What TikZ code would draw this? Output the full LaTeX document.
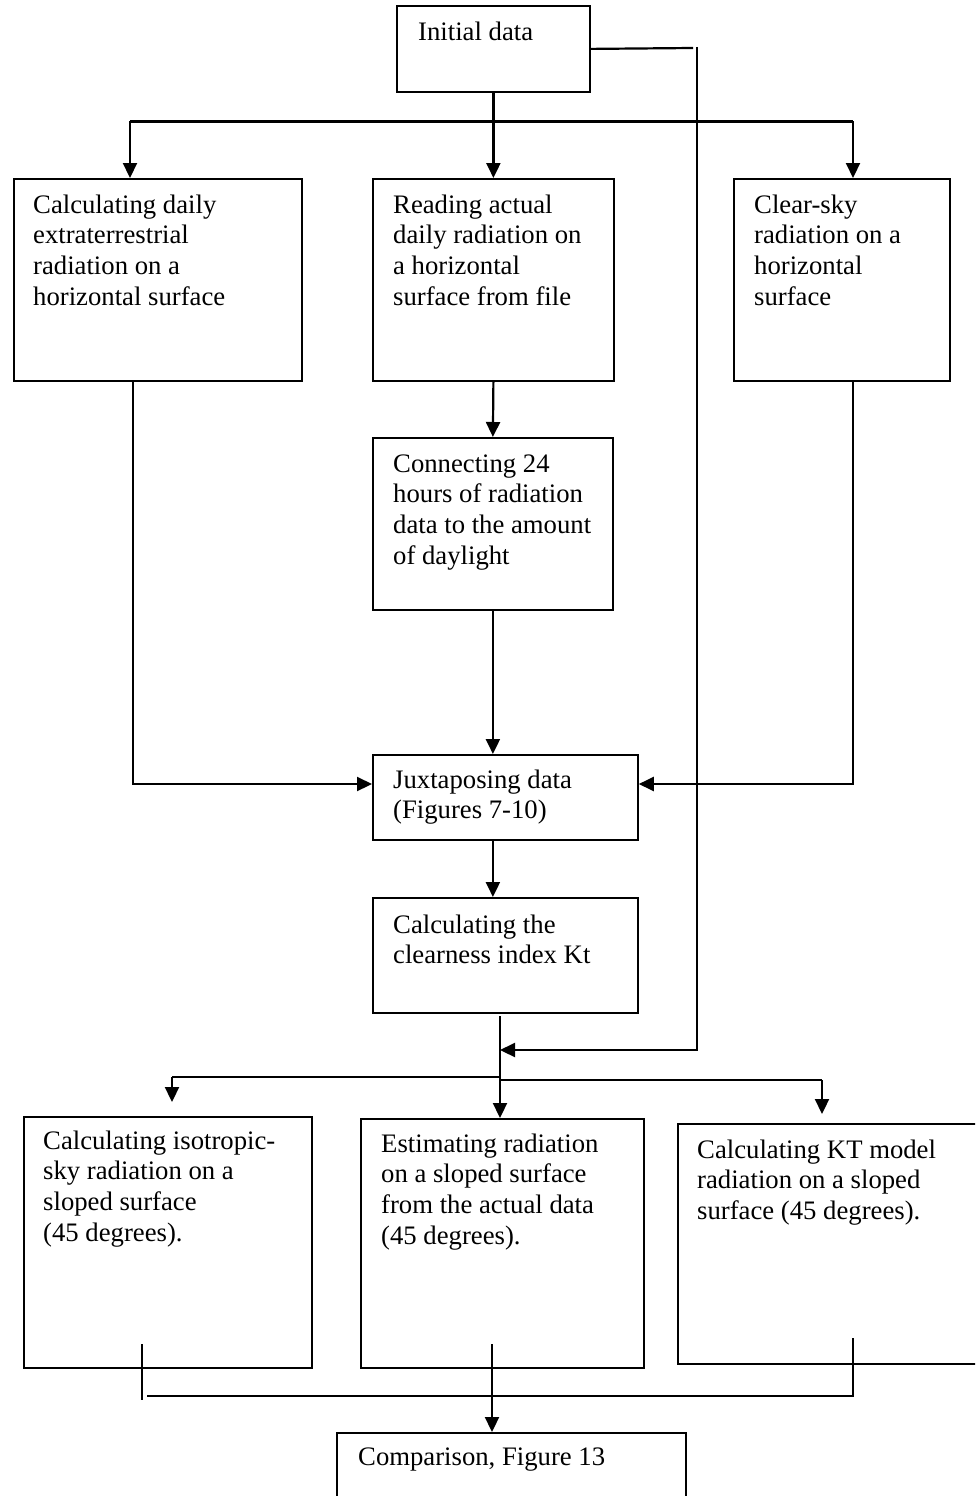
\documentclass[tikz,border=0pt]{standalone}
\usepackage{fontspec}
\setmainfont{Liberation Serif}
\usetikzlibrary{arrows.meta}
\begin{document}
\begin{tikzpicture}[x=1pt,y=-1pt,
  box/.style={draw, line width=1.8pt, rectangle, inner sep=0pt, anchor=north west},
  txt/.style={anchor=base west, align=left, inner sep=0pt, font=\fontsize{26.7}{30.7}\selectfont},
  wire/.style={line width=2.2pt},
  thickwire/.style={line width=3pt},
  arr/.style={wire, -{Triangle[length=15pt,width=14pt]}}]
\useasboundingbox (0,0) rectangle (975,1496);
\clip (0,0) rectangle (975,1496);
\fill[white] (0,0) rectangle (975,1496);

% boxes
\node[box, minimum width=193pt, minimum height=86pt] (init) at (396,5) {};
\node[box, minimum width=288pt, minimum height=202pt] (A) at (13,178) {};
\node[box, minimum width=241pt, minimum height=202pt] (B) at (372,178) {};
\node[box, minimum width=216pt, minimum height=202pt] (C) at (733,178) {};
\node[box, minimum width=240pt, minimum height=172pt] (D) at (372,437) {};
\node[box, minimum width=265pt, minimum height=85pt] (E) at (372,754) {};
\node[box, minimum width=265pt, minimum height=115pt] (F) at (372,897) {};
\node[box, minimum width=288pt, minimum height=251pt] (G) at (23,1116) {};
\node[box, minimum width=283pt, minimum height=249pt] (H) at (360,1118) {};
\node[box, minimum width=310pt, minimum height=240pt] (I) at (677,1123) {};
\node[box, minimum width=349pt, minimum height=100pt] (J) at (336,1432) {};

% texts (base anchor = baseline of the last line)
\node[txt] (tinit) at (418,41) {Initial data};
\node[txt] (tA) at (33,305.1) {Calculating daily\\extraterrestrial\\radiation on a\\horizontal surface};
\node[txt] (tB) at (393,305.1) {Reading actual\\daily radiation on\\a horizontal\\surface from file};
\node[txt] (tC) at (754,305.1) {Clear-sky\\radiation on a\\horizontal\\surface};
\node[txt] (tD) at (393,564.1) {Connecting 24\\hours of radiation\\data to the amount\\of daylight};
\node[txt] (tE) at (393,818.7) {Juxtaposing data\\(Figures 7-10)};
\node[txt] (tF) at (393,963.7) {Calculating the\\clearness index Kt};
\node[txt] (tG) at (43,1241.1) {Calculating isotropic-\\sky radiation on a\\sloped surface\\(45 degrees).};
\node[txt] (tH) at (381,1244.1) {Estimating radiation\\on a sloped surface\\from the actual data\\(45 degrees).};
\node[txt] (tI) at (697,1219.4) {Calculating KT model\\radiation on a sloped\\surface (45 degrees).};
\node[txt] (tJ) at (358,1465) {Comparison, Figure 13};

% top distribution
\coordinate (t1) at (130,121);
\coordinate (t3) at (853,121);
\draw[thickwire] (t1) -- (t3);
\draw[arr] (t1) -- (t1 |- A.north);
\draw[arr] (init.south) -- (B.north);
\draw[arr] (t3) -- (t3 |- C.north);

% bypass line on the right
\coordinate (r1) at (693,48);
\coordinate (r2) at (697,47);
\coordinate (r3) at (697,1050);
\coordinate (k1) at (500,1050);
\draw[wire] (init.east) -- (r1);
\draw[arr] (r2) -- (r3) -- (k1);

% middle column
\draw[arr] (B.south) -- (D.north);
\draw[arr] (D.south) -- (D.south |- E.north);
\coordinate (a1) at (133,784);
\draw[arr] (a1 |- A.south) -- (a1) -- (a1 -| E.west);
\coordinate (c1) at (853,784);
\draw[arr] (c1 |- C.south) -- (c1) -- (c1 -| E.east);
\draw[arr] (D.south |- E.south) -- (D.south |- F.north);

% lower distribution
\coordinate (f1) at (500,1016);
\draw[arr] (f1) -- (f1 |- H.north);
\coordinate (b1) at (172,1077);
\coordinate (b2) at (500,1077);
\coordinate (b4) at (500,1080);
\coordinate (b3) at (822,1080);
\draw[wire] (b1) -- (b2);
\draw[wire] (b4) -- (b3);
\coordinate (b1e) at (172,1102);
\coordinate (b3e) at (822,1114);
\draw[arr] (b1) -- (b1e);
\draw[arr] (b3) -- (b3e);

% bottom collection
\coordinate (g1) at (142,1344);
\coordinate (g2) at (142,1400);
\draw[wire] (g1) -- (g2);
\coordinate (h1) at (147,1396);
\coordinate (h2) at (853,1396);
\coordinate (h3) at (853,1338);
\draw[wire] (h1) -- (h2) -- (h3);
\coordinate (m1) at (492,1344);
\draw[arr] (m1) -- (m1 |- J.north);
\end{tikzpicture}
\end{document}
